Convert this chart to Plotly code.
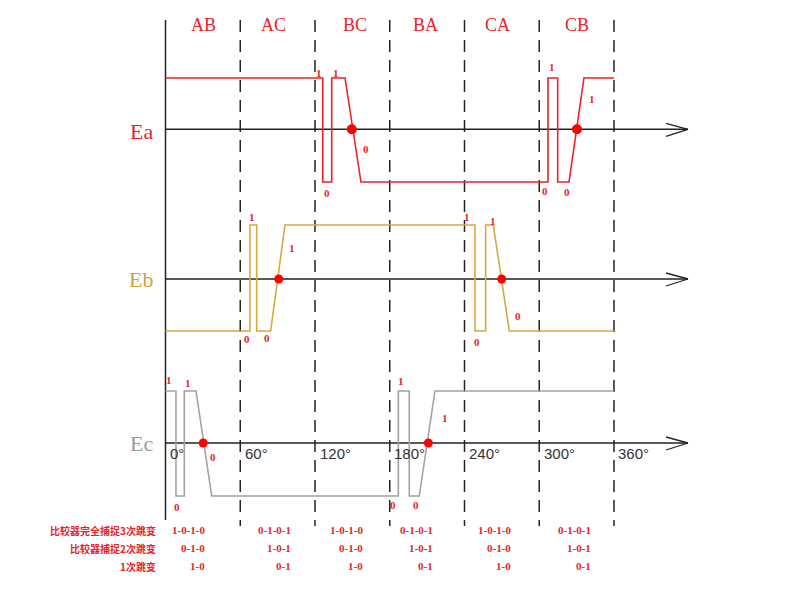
import plotly.graph_objects as go

# ---------------- data ----------------
phase_labels = ["AB", "AC", "BC", "BA", "CA", "CB"]
deg_ticks = [0, 60, 120, 180, 240, 300, 360]
deg_tick_labels = ["0°", "60°", "120°", "180°", "240°", "300°", "360°"]

# waveforms: angle (deg) and logic level (+1 high / -1 low)
ea_deg = [0, 126.2, 126.2, 133.4, 133.4, 144.1, 156.9, 307.0, 307.0, 314.8, 314.8, 323.9, 335.9, 360]
ea_lvl = [1, 1, -1, -1, 1, 1, -1, -1, 1, 1, -1, -1, 1, 1]
eb_deg = [0, 67.8, 67.8, 73.2, 73.2, 84.4, 95.9, 248.4, 248.4, 257.0, 257.0, 263.1, 276.0, 360]
eb_lvl = [-1, -1, 1, 1, -1, -1, 1, 1, -1, -1, 1, 1, -1, -1]
ec_deg = [0, 8.4, 8.4, 15.1, 15.1, 24.5, 37.1, 186.9, 186.9, 195.7, 195.7, 203.7, 216.3, 360]
ec_lvl = [1, 1, -1, -1, 1, 1, -1, -1, 1, 1, -1, -1, 1, 1]

# zero crossings (deg)
ea_zero = [149.5, 330.3]
eb_zero = [90.9, 269.9]
ec_zero = [30.3, 211.0]

# bit labels: (deg, text)
ea_bits = [(123.2, "1"), (136.9, "1"), (160.9, "0"), (129.6, "0"),
           (310.2, "1"), (342.4, "1"), (304.6, "0"), (322.3, "0")]
eb_bits = [(69.4, "1"), (101.5, "1"), (65.2, "0"), (81.2, "0"),
           (242.0, "1"), (262.9, "1"), (282.7, "0"), (249.8, "0")]
ec_bits = [(2.8, "1"), (17.8, "1"), (38.4, "0"), (9.0, "0"),
           (188.8, "1"), (224.4, "1"), (182.9, "0"), (201.1, "0")]

row_labels = ["比较器完全捕捉3次跳变", "比较器捕捉2次跳变", "1次跳变"]
row3_values = ["1-0-1-0", "0-1-0-1", "1-0-1-0", "0-1-0-1", "1-0-1-0", "0-1-0-1"]
row2_values = ["0-1-0", "1-0-1", "0-1-0", "1-0-1", "0-1-0", "1-0-1"]
row1_values = ["1-0", "0-1", "1-0", "0-1", "1-0", "0-1"]

# ---------------- layout helpers ----------------
W, H = 800, 598
OFF = 8               # page body margin
X0 = 165.5            # page px of 0 deg
PXD = 1.2458          # px per degree
def px2deg(px):
    return (px - X0) / PXD

RED = "#e8242a"
GOLD = "#d6a941"
GREY = "#a3a3a3"

ea_base, ea_amp = 130.0, 52.0
eb_base, eb_amp = 278.0, 53.0
ec_base, ec_amp = 443.5, 52.5
axis_y = {"ea": 129.3, "eb": 279.0, "ec": 443.0}

fig = go.Figure()

def add_wave(deg, lvl, base, amp, color):
    fig.add_trace(go.Scatter(x=deg, y=[base - l * amp for l in lvl], mode="lines",
                             line=dict(color=color, width=1.6), hoverinfo="skip",
                             showlegend=False))

add_wave(ea_deg, ea_lvl, ea_base, ea_amp, RED)
add_wave(eb_deg, eb_lvl, eb_base, eb_amp, GOLD)
add_wave(ec_deg, ec_lvl, ec_base, ec_amp, GREY)

shapes = []
shapes.append(dict(type="line", x0=0, x1=0, y0=20, y1=520, xref="x", yref="y",
                   line=dict(color="#222", width=1.5)))
for d in deg_ticks[1:]:
    shapes.append(dict(type="line", x0=d, x1=d, y0=20, y1=526, xref="x", yref="y",
                       line=dict(color="#222", width=1.5, dash="12px,8px")))
tip = px2deg(688)
tail = px2deg(666)
for k, y in axis_y.items():
    shapes.append(dict(type="line", x0=0, x1=tip, y0=y, y1=y, xref="x", yref="y",
                       line=dict(color="#222", width=1.6)))
    shapes.append(dict(type="line", x0=tail, x1=tip, y0=y - 6, y1=y, xref="x", yref="y",
                       line=dict(color="#222", width=1.3)))
    shapes.append(dict(type="line", x0=tail, x1=tip, y0=y + 7, y1=y, xref="x", yref="y",
                       line=dict(color="#222", width=1.3)))
for s in shapes:
    s["layer"] = "below"

fig.add_trace(go.Scatter(x=ea_zero, y=[axis_y["ea"]] * 2, mode="markers",
                         marker=dict(color="#ff0000", size=10), showlegend=False, hoverinfo="skip"))
fig.add_trace(go.Scatter(x=eb_zero, y=[axis_y["eb"]] * 2, mode="markers",
                         marker=dict(color="#ff0000", size=9), showlegend=False, hoverinfo="skip"))
fig.add_trace(go.Scatter(x=ec_zero, y=[axis_y["ec"]] * 2, mode="markers",
                         marker=dict(color="#ff0000", size=9), showlegend=False, hoverinfo="skip"))

ann = []
phase_px = [203, 273, 355, 425, 497, 577]
for lab, xp in zip(phase_labels, phase_px):
    ann.append(dict(x=px2deg(xp), y=25, text=lab, showarrow=False,
                    font=dict(family="Liberation Serif", size=18, color=RED),
                    xanchor="center", yanchor="middle"))
for d, t in zip(deg_ticks, deg_tick_labels):
    ann.append(dict(x=d + 2.5 / PXD, y=453, text=t, showarrow=False,
                    font=dict(family="Liberation Sans", size=15, color="#333"),
                    xanchor="left", yanchor="middle"))
ann.append(dict(x=px2deg(155), y=131, text="Ea", showarrow=False, xanchor="right", yanchor="middle",
                font=dict(family="Liberation Serif", size=22, color=RED)))
ann.append(dict(x=px2deg(155), y=279, text="Eb", showarrow=False, xanchor="right", yanchor="middle",
                font=dict(family="Liberation Serif", size=22, color="#c9a43a")))
ann.append(dict(x=px2deg(155), y=443, text="Ec", showarrow=False, xanchor="right", yanchor="middle",
                font=dict(family="Liberation Serif", size=22, color="#9a9a9a")))

bit_y = {
    "ea": [73, 73, 149, 193, 67, 99, 191, 192],
    "eb": [217, 248, 339, 338, 217, 221, 316, 342],
    "ec": [380, 383, 457, 507, 381, 418, 505, 505],
}
for key, bits in (("ea", ea_bits), ("eb", eb_bits), ("ec", ec_bits)):
    for (d, t), y in zip(bits, bit_y[key]):
        ann.append(dict(x=d, y=y, text="<b>" + t + "</b>", showarrow=False, xanchor="center",
                        yanchor="middle",
                        font=dict(family="Liberation Serif", size=11, color=RED)))

row_y = [530, 548, 566]
for lab, y in zip(row_labels, row_y):
    ann.append(dict(x=px2deg(158), y=y, text="<b>" + lab + "</b>", showarrow=False,
                    xanchor="right", yanchor="middle",
                    font=dict(family="Noto Sans CJK SC", size=10, color=RED)))
col_right_px = [207, 293, 365, 435, 513, 593]
for vals, y in zip((row3_values, row2_values, row1_values), row_y):
    for v, xr in zip(vals, col_right_px):
        ann.append(dict(x=px2deg(xr), y=y, text="<b>" + v + "</b>", showarrow=False,
                        xanchor="right", yanchor="middle",
                        font=dict(family="Liberation Serif", size=11, color=RED)))

fig.update_layout(
    width=W, height=H, margin=dict(l=0, r=0, t=0, b=0),
    paper_bgcolor="white", plot_bgcolor="white",
    xaxis=dict(range=[px2deg(OFF), px2deg(W + OFF)], visible=False, fixedrange=True),
    yaxis=dict(range=[H + OFF, OFF], visible=False, fixedrange=True),
    shapes=shapes, annotations=ann, showlegend=False,
)

fig.write_html("out.html")
